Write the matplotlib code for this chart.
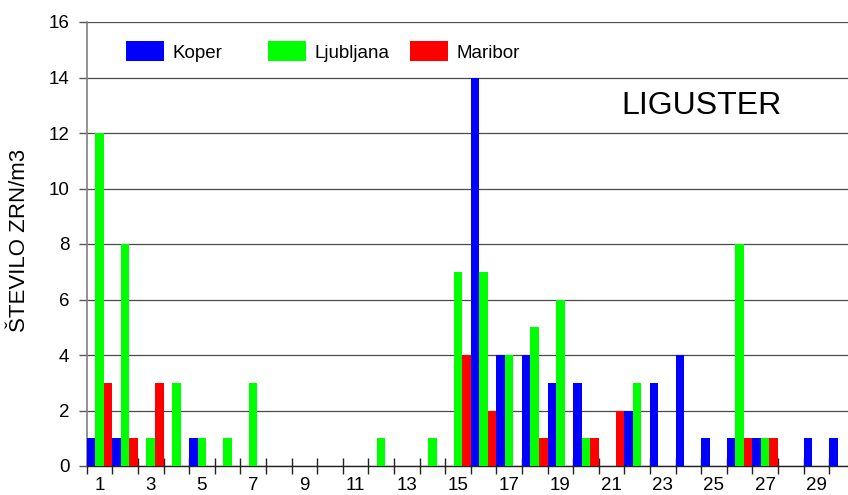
# Graf: liguster, stevilo zrn po dnevih
import numpy as np
import matplotlib
matplotlib.use("Agg")
import matplotlib.pyplot as plt
from matplotlib.patches import Patch

plt.rcParams['font.family'] = ['Liberation Sans', 'DejaVu Sans']

# podatki (dnevi 1..30)
dnevi = np.arange(1, 31)
koper = [1, 1, 0, 0, 1, 0, 0, 0, 0, 0, 0, 0, 0, 0, 0,
         14, 4, 4, 3, 3, 0, 2, 3, 4, 1, 1, 1, 0, 1, 1]
ljubljana = [12, 8, 1, 3, 1, 1, 3, 0, 0, 0, 0, 1, 0, 1, 7,
             7, 4, 5, 6, 1, 0, 3, 0, 0, 0, 8, 1, 0, 0, 0]
maribor = [3, 1, 3, 0, 0, 0, 0, 0, 0, 0, 0, 0, 0, 0, 4,
           2, 0, 1, 0, 1, 2, 0, 0, 0, 0, 1, 1, 0, 0, 0]
postaje = ['Koper', 'Ljubljana', 'Maribor']
barve = ['#0000FF', '#00FF00', '#FF0000']
yticks = np.arange(0, 17, 2)

W, H = 848, 495
fig = plt.figure(figsize=(W / 100, H / 100), dpi=100)
# os sega malo cez desni rob slike (kot v originalu)
ax = fig.add_axes([86.7 / W, 29 / H, 768 / W, 444 / H])

# stolpci: trije v vsakem dnevu, brez razmika
sirina = 1 / 3
for i, (vrednosti, barva) in enumerate(zip([koper, ljubljana, maribor], barve)):
    ax.bar(dnevi - 1 + i * sirina, vrednosti, width=sirina, align='edge',
           color=barva, edgecolor='none', zorder=3)

ax.set_xlim(0, 30)
ax.set_ylim(0, 16)

# mreza
ax.set_yticks(yticks)
ax.grid(axis='y', color='#4a4a4a', linewidth=0.9, zorder=0)
ax.set_axisbelow(True)

for s in ['top', 'right']:
    ax.spines[s].set_visible(False)
ax.spines['left'].set_color('#808080')
ax.spines['left'].set_linewidth(1.2)
ax.spines['bottom'].set_color('#222222')
ax.spines['bottom'].set_linewidth(1.0)

# x os: crtice med dnevi, oznake na sredini lihih dni
ax.set_xticks(np.arange(0, 31))
ax.set_xticklabels([])
ax.tick_params(axis='x', which='major', direction='inout', length=11,
               width=1, color='#222222')
ax.set_xticks(dnevi[::2] - 0.5, minor=True)
ax.set_xticklabels([str(d) for d in dnevi[::2]], minor=True)
ax.tick_params(axis='x', which='minor', length=0, pad=8, labelsize=13.5)

ax.tick_params(axis='y', direction='out', length=5.5, width=1,
               color='#555555', pad=7, labelsize=13.5)

fig.text(20 / W, 1 - 240 / H, 'ŠTEVILO ZRN/m3', rotation=90,
         ha='center', va='center', fontsize=16)
fig.text(701.7 / W, 1 - 106.5 / H, 'LIGUSTER', ha='center', va='center',
         fontsize=23)

# legenda: tri enako siroke kolone
leg_x = [126, 268, 410]
for ime, barva, x in zip(postaje, barve, leg_x):
    leg = fig.legend(handles=[Patch(facecolor=barva, edgecolor='none')],
                     labels=[ime], loc='center left',
                     bbox_to_anchor=(x / W, 1 - 51.5 / H), frameon=False,
                     fontsize=13.5, handlelength=2.0, handleheight=1.25,
                     handletextpad=0.5, borderpad=0, borderaxespad=0)

fig.savefig('out.png', dpi=100)
